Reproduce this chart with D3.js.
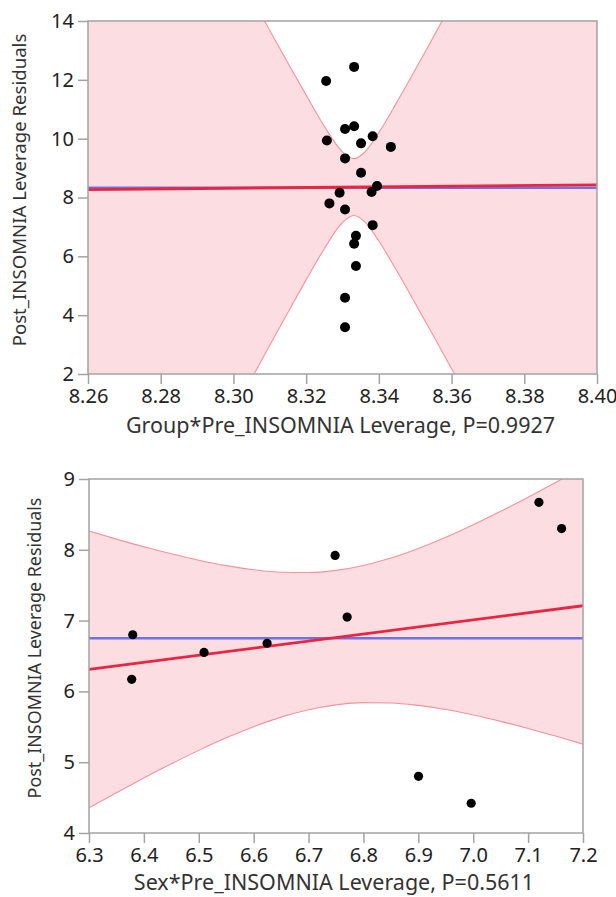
<html>
<head>
<title>Leverage plots</title>
<script src="https://cdn.jsdelivr.net/npm/d3@7"></script>
<style>
  body { margin: 0; background: #fff; }
  text { font-family: "Segoe UI", "Noto Sans", sans-serif; }
</style>
</head>
<body>
<script>
// ---- top panel: Group*Pre_INSOMNIA ----
var topX = [8.3255, 8.3332, 8.3257, 8.3307, 8.3332, 8.3351, 8.3383, 8.3433, 8.3307, 8.3351, 8.3395,
            8.3380, 8.3292, 8.3264, 8.3307, 8.3383, 8.3337, 8.3332, 8.3337, 8.3307, 8.3307];
var topY = [11.96, 12.44, 9.94, 10.33, 10.42, 9.84, 10.08, 9.72, 9.33, 8.84, 8.39,
            8.19, 8.16, 7.80, 7.59, 7.06, 6.70, 6.43, 5.67, 4.59, 3.59];
var topFit = [[8.26, 8.27], [8.40, 8.43]];
var topMean = 8.33;
// confidence curves
var topBandX  = [8.26, 8.28, 8.29, 8.30, 8.305, 8.31, 8.315, 8.32, 8.325, 8.33, 8.3331, 8.336, 8.34, 8.345, 8.35, 8.355, 8.36, 8.37, 8.38, 8.40];
var topBandLo = [-8.43, -3.86, -1.57, 0.71, 1.84, 2.98, 4.09, 5.20, 6.26, 7.15, 7.39, 7.19, 6.52, 5.49, 4.40, 3.30, 2.18, -0.07, -2.33, -6.85];
var topBandHi = [24.97, 20.44, 18.18, 15.93, 14.80, 13.68, 12.57, 11.48, 10.42, 9.55, 9.32, 9.53, 10.21, 11.25, 12.34, 13.46, 14.59, 16.87, 19.15, 23.71];
var topXTicks = [8.26, 8.28, 8.30, 8.32, 8.34, 8.36, 8.38, 8.40];
var topYTicks = [2, 4, 6, 8, 10, 12, 14];

// ---- bottom panel: Sex*Pre_INSOMNIA ----
var botX = [6.3797, 6.3778, 6.5096, 6.6245, 6.7484, 6.7703, 7.1197, 7.1610, 6.9003, 6.9963];
var botY = [6.80, 6.17, 6.55, 6.68, 7.92, 7.05, 8.67, 8.30, 4.80, 4.42];
var botFit = [[6.3, 6.31], [7.2, 7.21]];
var botMean = 6.75;
var botBandX  = [6.30, 6.35, 6.40, 6.45, 6.50, 6.55, 6.60, 6.65, 6.70, 6.75, 6.80, 6.85, 6.90, 6.95, 7.00, 7.05, 7.10, 7.15, 7.20];
var botBandLo = [4.355, 4.569, 4.777, 4.977, 5.167, 5.344, 5.502, 5.637, 5.741, 5.81, 5.841, 5.837, 5.802, 5.744, 5.667, 5.577, 5.477, 5.369, 5.255];
var botBandHi = [8.265, 8.151, 8.043, 7.943, 7.853, 7.776, 7.718, 7.683, 7.679, 7.71, 7.779, 7.883, 8.018, 8.176, 8.353, 8.543, 8.743, 8.951, 9.165];
var botXTicks = [6.3, 6.4, 6.5, 6.6, 6.7, 6.8, 6.9, 7.0, 7.1, 7.2];
var botYTicks = [4, 5, 6, 7, 8, 9];

var svg = d3.select("body").append("svg")
    .attr("width", 616)
    .attr("height", 897);

function panel(o) {
    var x = d3.scaleLinear().domain(o.xDomain).range([o.left, o.right]);
    var y = d3.scaleLinear().domain(o.yDomain).range([o.bottom, o.top]);
    var g = svg.append("g");

    var clipId = "clip" + o.id;
    g.append("clipPath").attr("id", clipId)
      .append("rect")
        .attr("x", o.left).attr("y", o.top)
        .attr("width", o.right - o.left).attr("height", o.bottom - o.top);

    var plot = g.append("g").attr("clip-path", "url(#" + clipId + ")");

    // confidence band
    var band = o.bandX.map(function(v, i) { return {x: v, lo: o.bandLo[i], hi: o.bandHi[i]}; });
    plot.append("path")
        .datum(band)
        .attr("fill", "#fcdde2")
        .attr("d", d3.area().curve(d3.curveMonotoneX)
            .x(function(d) { return x(d.x); })
            .y0(function(d) { return y(d.lo); })
            .y1(function(d) { return y(d.hi); }));
    ["lo", "hi"].forEach(function(k) {
        plot.append("path")
            .datum(band)
            .attr("fill", "none")
            .attr("stroke", "#f4939d")
            .attr("stroke-width", 1.1)
            .attr("d", d3.line().curve(d3.curveMonotoneX)
                .x(function(d) { return x(d.x); })
                .y(function(d) { return y(d[k]); }));
    });

    // mean line (blue) and fit line (red)
    plot.append("line")
        .attr("x1", x(o.xDomain[0])).attr("x2", x(o.xDomain[1]))
        .attr("y1", y(o.mean)).attr("y2", y(o.mean))
        .attr("stroke", "#6f72e6").attr("stroke-width", 2.4);
    plot.append("line")
        .attr("x1", x(o.fit[0][0])).attr("y1", y(o.fit[0][1]))
        .attr("x2", x(o.fit[1][0])).attr("y2", y(o.fit[1][1]))
        .attr("stroke", "#ea2541").attr("stroke-width", 2.8);

    // points
    plot.selectAll("circle").data(o.px).enter()
      .append("circle")
        .attr("cx", function(d) { return x(d); })
        .attr("cy", function(d, i) { return y(o.py[i]); })
        .attr("r", o.r)
        .attr("fill", "#000");

    // axes
    var xa = g.append("g")
        .attr("transform", "translate(0," + o.bottom + ")")
        .call(d3.axisBottom(x).tickValues(o.xTicks).tickFormat(d3.format(o.xFmt))
              .tickSizeInner(10).tickSizeOuter(0).tickPadding(5));
    var ya = g.append("g")
        .attr("transform", "translate(" + o.left + ",0)")
        .call(d3.axisLeft(y).tickValues(o.yTicks).tickFormat(d3.format("d"))
              .tickSizeInner(10).tickSizeOuter(0).tickPadding(4));
    [xa, ya].forEach(function(a) {
        a.select(".domain").remove();
        a.selectAll("line").attr("stroke", "#a3a3a3").attr("stroke-width", 1.5);
        a.selectAll("text").attr("fill", "#222").style("font-size", "20px");
    });

    // frame
    g.append("rect")
        .attr("x", o.left).attr("y", o.top)
        .attr("width", o.right - o.left).attr("height", o.bottom - o.top)
        .attr("fill", "none").attr("stroke", "#a3a3a3").attr("stroke-width", 1.5);

    // titles
    g.append("text")
        .attr("x", (o.left + o.right) / 2 - 2)
        .attr("y", o.xTitleY)
        .attr("text-anchor", "middle")
        .attr("fill", "#333")
        .style("font-size", "21.5px")
        .text(o.xTitle);
    g.append("text")
        .attr("transform", "translate(" + o.yTitleX + "," + o.yTitleMid + ")rotate(-90)")
        .attr("text-anchor", "middle")
        .attr("fill", "#333")
        .style("font-size", o.yTitleSize + "px")
        .text("Post_INSOMNIA Leverage Residuals");
}

panel({
    id: "top", left: 88, right: 597, top: 21, bottom: 374,
    xDomain: [8.26, 8.40], yDomain: [2, 14],
    px: topX, py: topY, r: 5, fit: topFit, mean: topMean,
    bandX: topBandX, bandLo: topBandLo, bandHi: topBandHi,
    xTicks: topXTicks, yTicks: topYTicks, xFmt: ".2f",
    xTitle: "Group*Pre_INSOMNIA Leverage, P=0.9927", xTitleY: 433,
    yTitleX: 26, yTitleMid: 190, yTitleSize: 18.6
});

panel({
    id: "bot", left: 89, right: 583, top: 479, bottom: 833,
    xDomain: [6.3, 7.2], yDomain: [4, 9],
    px: botX, py: botY, r: 4.6, fit: botFit, mean: botMean,
    bandX: botBandX, bandLo: botBandLo, bandHi: botBandHi,
    xTicks: botXTicks, yTicks: botYTicks, xFmt: ".1f",
    xTitle: "Sex*Pre_INSOMNIA Leverage, P=0.5611", xTitleY: 890,
    yTitleX: 41, yTitleMid: 648, yTitleSize: 17.9
});
</script>
</body>
</html>
